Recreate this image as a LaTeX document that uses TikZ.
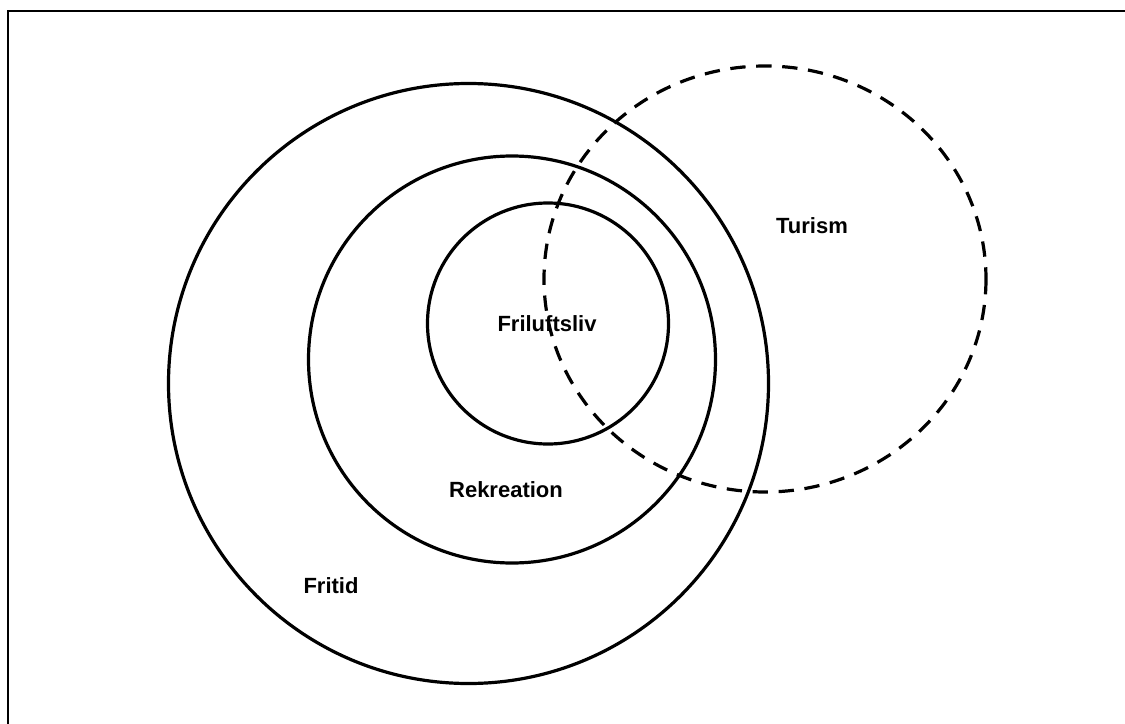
\documentclass[tikz,border=0pt]{standalone}
\usepackage{fontspec}
\setmainfont{Liberation Sans}
\begin{document}
\begin{tikzpicture}[x=0.75pt,y=-0.75pt,
        ring/.style={line width=2.4pt},
        tag/.style={font=\bfseries\fontsize{16.5}{20}\selectfont}]
        \useasboundingbox (0,0) rectangle (1125,724);
        \draw[line width=1.5pt] (7.5,740) -- (7.5,11) -- (1140,11);

        \coordinate (fritid) at (468.5,383.5);
        \coordinate (rekreation) at (512,359.5);
        \coordinate (friluftsliv) at (548,323.5);
        \coordinate (turism) at (765,279);

        \draw[ring] (fritid) circle [radius=300];
        \draw[ring] (rekreation) circle [radius=203.5];
        \draw[ring] (friluftsliv) circle [radius=120.5];
        \draw[ring, dash pattern=on 11.5pt off 8pt] (turism) ellipse [x radius=221, y radius=213];

        \node[tag] (fritidtxt) at (331,586) {Fritid};
        \node[tag] (rekreationtxt) at (506,490) {Rekreation};
        \node[tag] (friluftslivtxt) at (547,324) {Friluftsliv};
        \node[tag] (turismtxt) at (812,226) {Turism};
    \end{tikzpicture}
\end{document}
